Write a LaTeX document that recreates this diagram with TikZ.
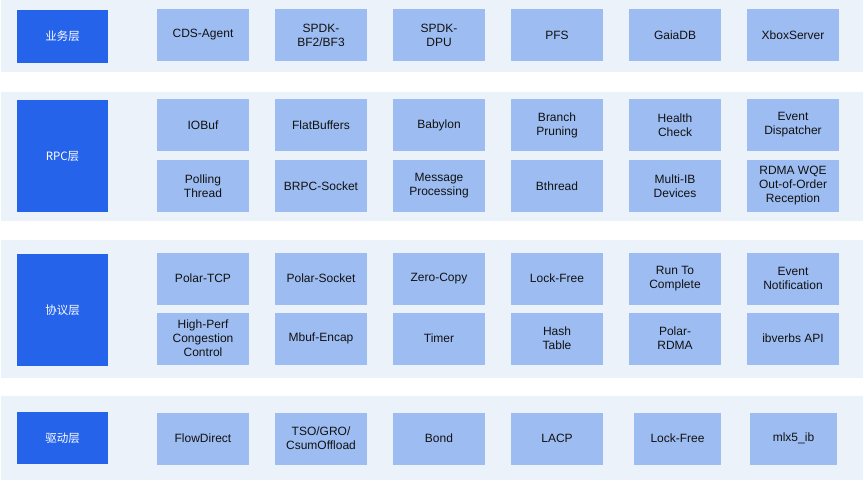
\documentclass[tikz,border=0pt]{standalone}
\usepackage{fontspec}
\setmainfont{Liberation Sans}
\newfontfamily\cjk{Noto Sans CJK SC}
\definecolor{bandbg}{HTML}{EBF2FA}
\definecolor{labelblue}{HTML}{2563EB}
\definecolor{itemblue}{HTML}{9DBDF2}
\definecolor{itemtext}{HTML}{111111}
\tikzset{
  band/.style={fill=bandbg, draw=none},
  layerbox/.style={fill=labelblue, draw=none, text=white, minimum width=91pt, inner sep=0pt, align=center, font=\cjk\fontsize{11.5}{14}\selectfont},
  item/.style={fill=itemblue, draw=none, text=itemtext, minimum width=92pt, minimum height=52pt, inner sep=0pt, align=center, font=\fontsize{12}{14}\selectfont}
}
\begin{document}
\begin{tikzpicture}[x=1pt,y=-1pt]
\useasboundingbox (0,0) rectangle (864,482);
\fill[white] (0,0) rectangle (864,482);
% bands
\fill[band] (1,0) rectangle (863,72);
\fill[band] (1,92) rectangle (863,221);
\fill[band] (1,240) rectangle (863,378);
\fill[band] (1,396) rectangle (863,480);
% layer labels
\node[layerbox, minimum height=53pt] (l1) at (62.5,36.5) {业务层};
\node[layerbox, minimum height=112pt] (l2) at (62.5,156) {RPC层};
\node[layerbox, minimum height=112pt] (l3) at (62.5,310) {协议层};
\node[layerbox, minimum height=52pt] (l4) at (62.5,438) {驱动层};
% band 1
\node[item] (a1) at (203,35) {CDS-Agent};
\node[item] (a2) at (321,35) {SPDK-\\BF2/BF3};
\node[item] (a3) at (439,35) {SPDK-\\DPU};
\node[item] (a4) at (557,35) {PFS};
\node[item] (a5) at (675,35) {GaiaDB};
\node[item] (a6) at (793,35) {XboxServer};
% band 2
\node[item] (b1) at (203,125) {IOBuf};
\node[item] (b2) at (321,125) {FlatBuffers};
\node[item] (b3) at (439,125) {Babylon};
\node[item] (b4) at (557,125) {Branch\\Pruning};
\node[item] (b5) at (675,125) {Health\\Check};
\node[item] (b6) at (793,125) {Event\\Dispatcher};
\node[item] (c1) at (203,186) {Polling\\Thread};
\node[item] (c2) at (321,186) {BRPC-Socket};
\node[item] (c3) at (439,186) {Message\\Processing};
\node[item] (c4) at (557,186) {Bthread};
\node[item] (c5) at (675,186) {Multi-IB\\Devices};
\node[item] (c6) at (793,186) {RDMA WQE\\Out-of-Order\\Reception};
% band 3
\node[item] (d1) at (203,278.5) {Polar-TCP};
\node[item] (d2) at (321,278.5) {Polar-Socket};
\node[item] (d3) at (439,278.5) {Zero-Copy};
\node[item] (d4) at (557,278.5) {Lock-Free};
\node[item] (d5) at (675,278.5) {Run To\\Complete};
\node[item] (d6) at (793,278.5) {Event\\Notification};
\node[item] (e1) at (203,338.5) {High-Perf\\Congestion\\Control};
\node[item] (e2) at (321,338.5) {Mbuf-Encap};
\node[item] (e3) at (439,338.5) {Timer};
\node[item] (e4) at (557,338.5) {Hash\\Table};
\node[item] (e5) at (675,338.5) {Polar-\\RDMA};
\node[item] (e6) at (793,338.5) {ibverbs API};
% band 4
\node[item] (f1) at (203,438.5) {FlowDirect};
\node[item] (f2) at (321,438.5) {TSO/GRO/\\CsumOffload};
\node[item] (f3) at (439,438.5) {Bond};
\node[item] (f4) at (557,438.5) {LACP};
\node[item, minimum width=87pt] (f5) at (677.5,438.5) {Lock-Free};
\node[item, minimum width=87pt] (f6) at (793.5,438.5) {mlx5\_ib};
\end{tikzpicture}
\end{document}
